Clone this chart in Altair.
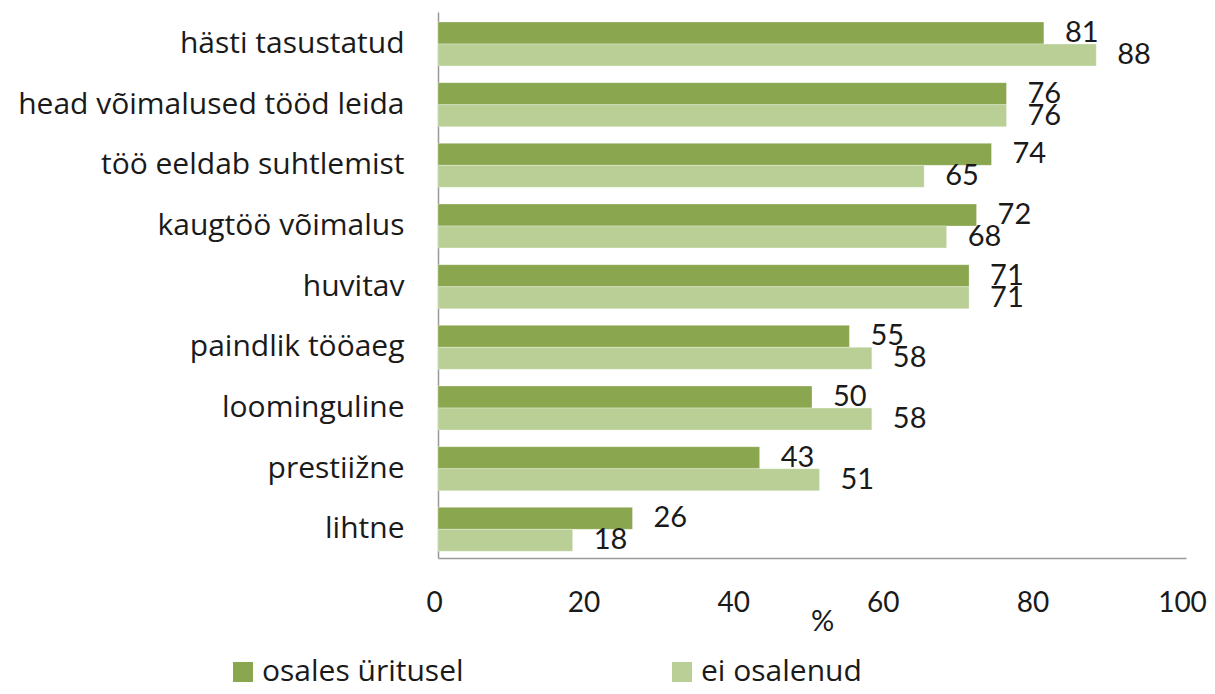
import altair as alt
import pandas as pd

categories = ["hästi tasustatud", "head võimalused tööd leida", "töö eeldab suhtlemist",
              "kaugtöö võimalus", "huvitav", "paindlik tööaeg", "loominguline",
              "prestiižne", "lihtne"]
series = ["osales üritusel", "ei osalenud"]
osales = [81, 76, 74, 72, 71, 55, 50, 43, 26]
ei_osalenud = [88, 76, 65, 68, 71, 58, 58, 51, 18]
x_ticks = [0, 20, 40, 60, 80, 100]
colors = ["#8aa64f", "#b9cf96"]

rows = []
for c, a, b in zip(categories, osales, ei_osalenud):
    rows.append({"cat": c, "series": series[0], "val": a})
    rows.append({"cat": c, "series": series[1], "val": b})
df = pd.DataFrame(rows)

FONT = "Lato"
CAT_FONT = "Open Sans"

y_enc = alt.Y("cat:N", sort=categories,
              scale=alt.Scale(paddingInner=0.275, paddingOuter=0.1375, align=0.6),
              axis=alt.Axis(title=None, labelFontSize=30, labelFont=CAT_FONT, labelColor="#1a1a1a",
                            labelPadding=34, ticks=False, domainColor="#999999",
                            domainWidth=1.5, labelLimit=500))
x_enc = alt.X("val:Q", scale=alt.Scale(domain=[0, 100], nice=False),
              axis=alt.Axis(values=x_ticks, title="%", grid=False, ticks=False,
                            labelFontSize=28, labelFont=FONT, labelColor="#1a1a1a",
                            labelBaseline="middle", labelPadding=45, labelFlush=False,
                            labelOffset=-4,
                            domainColor="#999999", domainWidth=1.5,
                            titleFontSize=29, titleFont=FONT, titleFontWeight="normal",
                            titleColor="#1a1a1a", titleX=384, titleY=63,
                            titleBaseline="middle", titleAlign="center"))
yoff = alt.YOffset("series:N", sort=series)

bars = alt.Chart(df).mark_bar(stroke="white", strokeOpacity=0.6, strokeWidth=0.5).encode(
    x=x_enc, y=y_enc, yOffset=yoff,
    color=alt.Color("series:N", sort=series,
                    scale=alt.Scale(domain=series, range=colors),
                    legend=alt.Legend(title=None, orient="none", direction="horizontal",
                                      legendX=-210, legendY=645, padding=0,
                                      symbolType="square", symbolSize=400,
                                      symbolStrokeWidth=0, labelFontSize=30,
                                      labelFont=CAT_FONT, labelColor="#1a1a1a",
                                      labelOffset=4, columnPadding=203,
                                      labelLimit=400))
)

labels = alt.Chart(df).mark_text(align="left", baseline="middle", dx=21, fontSize=29,
                                 font=FONT, color="#1a1a1a").encode(
    x="val:Q", y=alt.Y("cat:N", sort=categories), yOffset=yoff,
    text="val:Q"
)

chart = alt.layer(bars, labels).properties(
    width=748, height=546,
    autosize=alt.AutoSizeParams(type="none"),
    padding={"left": 430, "top": 4, "right": 21, "bottom": 128},
).configure_view(stroke=None)

chart.save("out.html", embed_options={"renderer": "svg", "actions": False})
